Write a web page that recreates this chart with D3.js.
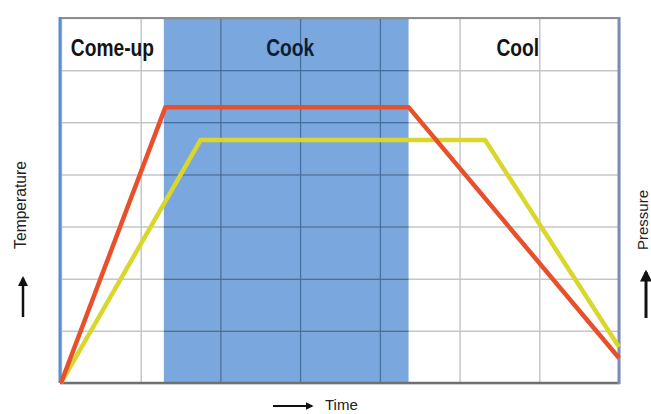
<!DOCTYPE html>
<html><head><meta charset="utf-8">
<script src="https://cdn.jsdelivr.net/npm/d3@7"></script>
<style>html,body{margin:0;padding:0;background:#fff;}svg{display:block;}</style>
</head><body>
<svg id="chart" width="651" height="414"></svg>
<script>
// ---- data ----
const phases = ["Come-up", "Cook", "Cool"];
const phaseBounds = [0, 1.29, 4.36, 7];          // time units
const cookPhase = [1.29, 4.36];
const xTicks = [0, 1, 2, 3, 4, 5, 6, 7];
const yTicks = [0, 1, 2, 3, 4, 5, 6, 7];
const tempTime  = [0, 1.31, 4.36, 7];
const tempValue = [0, 5.29, 5.29, 0.48];
const presTime  = [0, 1.75, 5.32, 7];
const presValue = [0, 4.66, 4.66, 0.69];

// ---- layout ----
const svg = d3.select("#chart");
const L = 61, R = 619, T = 18, B = 383;
const x = d3.scaleLinear().domain([0, 7]).range([L, R]);
const y = d3.scaleLinear().domain([0, 7]).range([B, T]);

// shaded cook region
svg.append("rect")
  .attr("x", x(cookPhase[0])).attr("y", T)
  .attr("width", x(cookPhase[1]) - x(cookPhase[0])).attr("height", B - T)
  .attr("fill", "#7aa8de");

svg.append("clipPath").attr("id", "cookClip").append("rect")
  .attr("x", x(cookPhase[0])).attr("y", T)
  .attr("width", x(cookPhase[1]) - x(cookPhase[0])).attr("height", B - T);

function grid(g, color) {
  g.append("g").attr("transform", `translate(0,${B})`)
    .call(d3.axisBottom(x).tickValues(xTicks).tickSize(-(B - T)).tickFormat(""))
    .call(a => a.select(".domain").remove())
    .call(a => a.selectAll("line").attr("stroke", color).attr("stroke-width", 1.5));
  g.append("g").attr("transform", `translate(${L},0)`)
    .call(d3.axisLeft(y).tickValues(yTicks).tickSize(-(R - L)).tickFormat(""))
    .call(a => a.select(".domain").remove())
    .call(a => a.selectAll("line").attr("stroke", color).attr("stroke-width", 1.5));
}
const g1 = svg.append("g");
grid(g1, "#c4c6ca");
const g2 = svg.append("g").attr("clip-path", "url(#cookClip)");
grid(g2, "#46709f");

// frame
svg.append("line").attr("x1", L - 1).attr("x2", R).attr("y1", T).attr("y2", T)
  .attr("stroke", "#8a8d92").attr("stroke-width", 2);
svg.append("line").attr("x1", L - 1).attr("x2", R + 1).attr("y1", B).attr("y2", B)
  .attr("stroke", "#6e7074").attr("stroke-width", 2.5);
svg.append("line").attr("x1", L - 1).attr("x2", L - 1).attr("y1", T - 1).attr("y2", B)
  .attr("stroke", "#5a8fcc").attr("stroke-width", 3);
svg.append("line").attr("x1", R).attr("x2", R).attr("y1", T - 1).attr("y2", B + 1)
  .attr("stroke", "#7b8db4").attr("stroke-width", 3);

// lines
const line = d3.line().x(d => x(d[0])).y(d => y(d[1]));
svg.append("path").datum(presTime.map((t, i) => [t, presValue[i]]))
  .attr("d", line).attr("fill", "none").attr("stroke", "#d9d62c")
  .attr("stroke-width", 4.5).attr("stroke-linejoin", "round");
svg.append("path").datum(tempTime.map((t, i) => [t, tempValue[i]]))
  .attr("d", line).attr("fill", "none").attr("stroke", "#e8502c")
  .attr("stroke-width", 4.5).attr("stroke-linejoin", "round");

// phase labels (condensed bold)
svg.selectAll("text.phase").data(phases).join("text")
  .attr("class", "phase")
  .attr("transform", (d, i) => {
    const cx = (x(phaseBounds[i]) + x(phaseBounds[i + 1])) / 2 + (i === 0 ? 0 : 4);
    return `translate(${cx},56) scale(0.8,1)`;
  })
  .attr("text-anchor", "middle")
  .attr("font-family", "'Liberation Sans', Arial, sans-serif")
  .attr("font-weight", "bold")
  .attr("font-size", 24)
  .attr("fill", (d, i) => i === 1 ? "#0f1d33" : "#141414")
  .text(d => d);

// axis labels
const lab = "'Liberation Sans', Arial, sans-serif";
svg.append("text").attr("transform", "translate(26,205) rotate(-90) scale(0.92,1)")
  .attr("text-anchor", "middle").attr("font-family", lab).attr("font-size", 17)
  .attr("fill", "#222").text("Temperature");
svg.append("text").attr("transform", "translate(648,220) rotate(-90)")
  .attr("text-anchor", "middle").attr("font-family", lab).attr("font-size", 15)
  .attr("fill", "#222").text("Pressure");
svg.append("text").attr("x", 325).attr("y", 410)
  .attr("font-family", lab).attr("font-size", 15).attr("fill", "#222").text("Time");

// arrows
const defs = svg.append("defs");
defs.append("marker").attr("id", "ah").attr("viewBox", "0 0 10 10")
  .attr("refX", 8).attr("refY", 5).attr("markerWidth", 4).attr("markerHeight", 4)
  .attr("orient", "auto").attr("markerUnits", "strokeWidth")
  .append("path").attr("d", "M0,0 L10,5 L0,10 Z").attr("fill", "#111");
svg.append("line").attr("x1", 23).attr("x2", 23).attr("y1", 317).attr("y2", 278)
  .attr("stroke", "#111").attr("stroke-width", 2.5).attr("marker-end", "url(#ah)");
svg.append("line").attr("x1", 646).attr("x2", 646).attr("y1", 318).attr("y2", 272)
  .attr("stroke", "#111").attr("stroke-width", 3).attr("marker-end", "url(#ah)");
svg.append("line").attr("x1", 273).attr("x2", 312).attr("y1", 406).attr("y2", 406)
  .attr("stroke", "#111").attr("stroke-width", 2).attr("marker-end", "url(#ah)");
</script>
</body></html>
